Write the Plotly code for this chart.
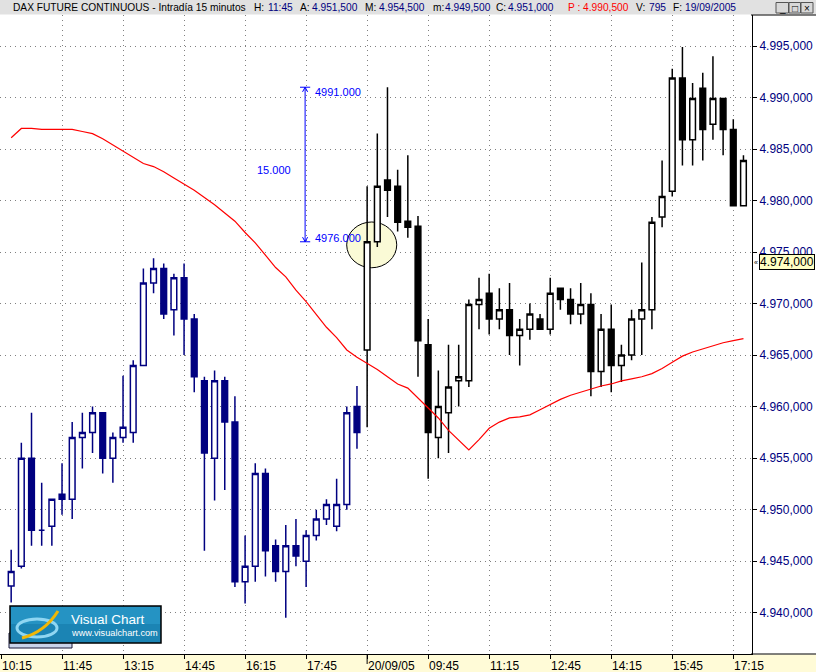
import plotly.graph_objects as go

W, H = 816, 672
ML, MR, MT, MB = 0, 64, 15, 18
PW = W - ML - MR
PH = H - MT - MB

def px(xp):
    return (xp - ML) / PW

def py(yp):
    return (H - MB - yp) / PH

NAVY = "#000080"
BLACK = "#000000"
FONT = "Liberation Sans, Arial, sans-serif"

# ---------------- data ----------------
# Day 1 (19/09/2005) bars, index 1..35 (15-minute bars)
x_day1 = list(range(1, 36))
open_day1 = [4942.6, 4944.5, 4955.0, 4948.0, 4948.4, 4951.5, 4951.0, 4957.0, 4957.5, 4959.4,
             4955.0, 4957.0, 4957.5, 4964.0, 4972.0, 4973.4, 4969.4, 4972.5, 4968.5, 4962.5,
             4955.0, 4962.5, 4958.5, 4943.0, 4944.5, 4953.5, 4946.5, 4944.0, 4946.5, 4945.0,
             4947.5, 4949.1, 4948.4, 4950.5, 4960.0]
high_day1 = [4946.1, 4956.5, 4959.4, 4952.6, 4951.0, 4954.5, 4958.5, 4959.4, 4960.0, 4959.4,
             4957.5, 4963.0, 4964.5, 4973.4, 4974.4, 4973.9, 4972.9, 4973.9, 4969.0, 4962.9,
             4963.5, 4962.9, 4961.0, 4947.5, 4954.5, 4954.0, 4947.1, 4948.5, 4949.1, 4948.0,
             4950.0, 4951.0, 4953.0, 4960.0, 4962.0]
low_day1 = [4941.0, 4944.3, 4946.5, 4946.5, 4946.5, 4949.5, 4949.1, 4954.0, 4955.5, 4953.5,
            4952.6, 4956.5, 4956.5, 4964.0, 4971.0, 4968.5, 4966.9, 4965.0, 4961.4, 4946.0,
            4950.9, 4951.9, 4942.5, 4940.9, 4943.0, 4943.5, 4943.0, 4939.5, 4944.5, 4942.5,
            4947.0, 4948.5, 4947.9, 4950.0, 4955.9]
close_day1 = [4944.0, 4955.0, 4948.0, 4948.0, 4951.0, 4951.0, 4957.0, 4957.5, 4959.4, 4955.0,
              4957.0, 4958.0, 4964.0, 4972.0, 4973.4, 4969.0, 4972.5, 4968.5, 4962.9, 4955.5,
              4962.5, 4958.5, 4943.0, 4944.5, 4953.5, 4946.0, 4944.0, 4946.5, 4945.5, 4947.5,
              4949.1, 4950.5, 4950.5, 4959.4, 4957.5]

# Day 2 (20/09/2005) bars, index 36..73
x_day2 = list(range(36, 74))
open_day2 = [4965.5, 4976.0, 4982.0, 4981.4, 4978.0, 4977.5, 4966.0, 4957.0, 4959.4, 4962.5,
             4962.5, 4969.9, 4971.0, 4968.5, 4969.4, 4966.9, 4967.5, 4968.5, 4967.5, 4971.5,
             4970.4, 4969.0, 4969.9, 4963.4, 4967.5, 4964.0, 4965.0, 4968.5, 4969.4, 4978.4,
             4980.9, 4991.9, 4985.9, 4990.9, 4987.4, 4989.9, 4986.9, 4979.5]
high_day2 = [4981.4, 4986.5, 4991.0, 4983.0, 4984.4, 4978.5, 4968.5, 4963.5, 4966.0, 4966.0,
             4970.4, 4972.5, 4972.9, 4971.5, 4972.0, 4968.5, 4970.0, 4969.0, 4972.5, 4971.5,
             4971.5, 4972.0, 4971.0, 4969.0, 4969.9, 4966.0, 4969.4, 4974.0, 4978.4, 4983.9,
             4992.8, 4994.9, 4991.4, 4992.4, 4994.0, 4989.9, 4987.9, 4984.4]
low_day2 = [4958.0, 4975.5, 4978.4, 4977.0, 4976.4, 4962.9, 4953.0, 4955.0, 4955.5, 4960.0,
            4961.9, 4967.5, 4967.0, 4967.5, 4965.0, 4964.0, 4966.5, 4967.5, 4967.0, 4969.4,
            4968.0, 4968.0, 4961.0, 4961.9, 4961.4, 4962.4, 4964.5, 4965.0, 4967.5, 4977.4,
            4980.4, 4983.4, 4983.4, 4983.9, 4985.9, 4984.4, 4979.5, 4979.5]
close_day2 = [4976.0, 4981.4, 4981.0, 4977.9, 4977.4, 4966.4, 4957.5, 4960.0, 4961.9, 4962.9,
              4969.9, 4970.4, 4968.5, 4969.4, 4966.9, 4967.5, 4969.0, 4967.5, 4971.0, 4970.4,
              4969.0, 4969.9, 4963.4, 4967.5, 4964.0, 4965.0, 4968.5, 4969.4, 4977.9, 4980.4,
              4991.9, 4985.9, 4989.9, 4986.9, 4989.9, 4986.9, 4979.5, 4983.9]

# Moving average (red line)
x_ma = list(range(1, 74))
ma_values = [4986.1, 4987.0, 4987.0, 4986.9, 4986.9, 4986.9, 4986.9, 4986.7, 4986.5, 4986.0,
             4985.4, 4984.8, 4984.2, 4983.6, 4983.3, 4982.8, 4982.2, 4981.6, 4981.0, 4980.3,
             4979.6, 4978.8, 4978.0, 4976.9, 4975.9, 4974.7, 4973.5, 4972.6, 4971.3, 4970.2,
             4968.9, 4967.7, 4966.7, 4965.5, 4964.8, 4964.2, 4963.6, 4962.9, 4962.2, 4961.8,
             4960.8, 4959.9, 4958.9, 4957.7, 4956.7, 4955.8, 4956.8, 4957.9, 4958.5, 4958.9,
             4959.0, 4959.2, 4959.7, 4960.2, 4960.7, 4961.1, 4961.4, 4961.7, 4962.0, 4962.2,
             4962.5, 4962.7, 4962.9, 4963.2, 4963.7, 4964.3, 4964.9, 4965.3, 4965.6, 4965.9,
             4966.2, 4966.4, 4966.6]

# axis ticks
x_tick_pos = list(range(0, 73, 6))
x_tick_text = ["10:15", "11:45", "13:15", "14:45", "16:15", "17:45", "20/09/05",
               "09:45", "11:15", "12:45", "14:15", "15:45", "17:15"]
y_tick_vals = [4940, 4945, 4950, 4955, 4960, 4965, 4970, 4975, 4980, 4985, 4990, 4995]
y_tick_text = ["4.%03d,000" % (v - 4000) for v in y_tick_vals]

last_price = 4974.0
measure_high = 4991.0
measure_low = 4976.0
measure_bar = 29.9

# ---------------- figure ----------------
fig = go.Figure()

fig.add_trace(go.Candlestick(
    x=x_day1, open=open_day1, high=high_day1, low=low_day1, close=close_day1,
    increasing=dict(line=dict(color=NAVY, width=1.5), fillcolor="white"),
    decreasing=dict(line=dict(color=NAVY, width=1.5), fillcolor=NAVY),
    whiskerwidth=0, showlegend=False, hoverinfo="skip"))

fig.add_trace(go.Candlestick(
    x=x_day2, open=open_day2, high=high_day2, low=low_day2, close=close_day2,
    increasing=dict(line=dict(color=BLACK, width=1.5), fillcolor="white"),
    decreasing=dict(line=dict(color=BLACK, width=1.5), fillcolor=BLACK),
    whiskerwidth=0, showlegend=False, hoverinfo="skip"))

fig.add_trace(go.Scatter(x=x_ma, y=ma_values, mode="lines",
                         line=dict(color="#ff0000", width=1.2),
                         showlegend=False, hoverinfo="skip"))

shapes = []
# title bar
shapes.append(dict(type="rect", xref="paper", yref="paper", x0=px(0), x1=px(W),
                   y0=py(14.5), y1=py(0), fillcolor="#e1e1e1", line=dict(width=0), layer="below"))
# bottom yellow band
shapes.append(dict(type="rect", xref="paper", yref="paper", x0=px(0), x1=px(W),
                   y0=py(H), y1=py(654.5), fillcolor="#FFFBD7", line=dict(width=0), layer="below"))
# bottom line extension under right panel
shapes.append(dict(type="line", xref="paper", yref="paper", x0=px(751), x1=px(W),
                   y0=py(654), y1=py(654), line=dict(color="black", width=1)))
# right panel top border
shapes.append(dict(type="line", xref="paper", yref="paper", x0=px(751), x1=px(W),
                   y0=py(15), y1=py(15), line=dict(color="black", width=1)))
# longer day-separator tick
shapes.append(dict(type="line", xref="x", yref="paper", x0=36, x1=36,
                   y0=py(654), y1=py(664), line=dict(color="black", width=1)))

# highlight ellipse around the breakout
ell_cx, ell_cy = 36.45, close_day2[0] - 0.3
shapes.append(dict(type="circle", xref="x", yref="y",
                   x0=ell_cx - 2.46, x1=ell_cx + 2.46, y0=ell_cy - 2.22, y1=ell_cy + 2.22,
                   fillcolor="#FAFAD6", line=dict(color="black", width=1), layer="between"))

# measuring tool
BLUE = "#0000ff"
shapes.append(dict(type="line", xref="x", yref="y", x0=measure_bar, x1=measure_bar,
                   y0=measure_low, y1=measure_high, line=dict(color=BLUE, width=1)))
for yv, d in ((measure_high, -1), (measure_low, 1)):
    shapes.append(dict(type="line", xref="x", yref="y", x0=measure_bar - 0.5, x1=measure_bar + 0.5,
                       y0=yv, y1=yv, line=dict(color=BLUE, width=1)))
    shapes.append(dict(type="line", xref="x", yref="y", x0=measure_bar - 0.25, x1=measure_bar,
                       y0=yv + d * 0.45, y1=yv, line=dict(color=BLUE, width=1)))
    shapes.append(dict(type="line", xref="x", yref="y", x0=measure_bar + 0.25, x1=measure_bar,
                       y0=yv + d * 0.45, y1=yv, line=dict(color=BLUE, width=1)))

# window buttons
for bx0, bx1 in ((776, 788.5), (789, 800.5), (801, 813)):
    shapes.append(dict(type="rect", xref="paper", yref="paper", x0=px(bx0), x1=px(bx1),
                       y0=py(13), y1=py(2.5), fillcolor="#d8d8d8", line=dict(color="#555555", width=1)))

# Visual Chart logo
shapes.append(dict(type="rect", xref="paper", yref="paper", x0=px(9), x1=px(72),
                   y0=py(648), y1=py(633), fillcolor="#c9d3ea", line=dict(color="#1a1a3a", width=1)))
shapes.append(dict(type="rect", xref="paper", yref="paper", x0=px(10), x1=px(161),
                   y0=py(643), y1=py(606), fillcolor="#1b84b4", line=dict(color="black", width=1.5)))
shapes.append(dict(type="rect", xref="paper", yref="paper", x0=px(11), x1=px(160),
                   y0=py(624), y1=py(607), fillcolor="#2593c3", line=dict(width=0)))
shapes.append(dict(type="circle", xref="paper", yref="paper", x0=px(17), x1=px(57),
                   y0=py(637), y1=py(619), line=dict(color="#8fd6f2", width=3)))
shapes.append(dict(type="path", xref="paper", yref="paper",
                   path="M %f,%f Q %f,%f %f,%f" % (px(22), py(638), px(45), py(632), px(58), py(611)),
                   line=dict(color="#f2b705", width=3)))

annotations = []
# x tick labels (left aligned at the tick)
for pos, txt in zip(x_tick_pos, x_tick_text):
    annotations.append(dict(x=pos, xref="x", y=py(666), yref="paper", text=txt,
                            xanchor="left", yanchor="middle", showarrow=False, xshift=-1,
                            font=dict(family=FONT, size=12, color="black")))

# title bar text
title_parts = [
    (13.3, "DAX FUTURE CONTINUOUS - Intradía 15 minutos", "black"),
    (254, "H:", "black"), (268.3, "11:45", NAVY),
    (300, "A:", "black"), (312.3, "4.951,500", NAVY),
    (365, "M:", "black"), (379, "4.954,500", NAVY),
    (433, "m:", "black"), (444.7, "4.949,500", NAVY),
    (495.7, "C:", "black"), (508, "4.951,000", NAVY),
    (568, "P : 4.990,500", "#ff0000"),
    (635.7, "V:", "black"), (649, "795", NAVY),
    (673, "F:", "black"), (685.3, "19/09/2005", NAVY),
]
for xp, txt, col in title_parts:
    annotations.append(dict(x=px(xp), xref="paper", y=py(7.5), yref="paper", text=txt,
                            xanchor="left", yanchor="middle", showarrow=False, xshift=-2,
                            font=dict(family=FONT, size=10.2, color=col)))
for xp, sym in ((782.3, "_"), (794.8, "□"), (807, "×")):
    annotations.append(dict(x=px(xp), xref="paper", y=py(8), yref="paper", text=sym,
                            xanchor="center", yanchor="middle", showarrow=False,
                            font=dict(family=FONT, size=10, color="black")))

# measuring tool labels
annotations.append(dict(x=measure_bar + 0.75, xref="x", y=measure_high, yref="y",
                        text="%.3f" % measure_high, xanchor="left", yanchor="middle",
                        showarrow=False, yshift=-5, font=dict(family=FONT, size=11, color=BLUE)))
annotations.append(dict(x=measure_bar + 0.75, xref="x", y=measure_low, yref="y",
                        text="%.3f" % measure_low, xanchor="left", yanchor="middle",
                        showarrow=False, yshift=4, font=dict(family=FONT, size=11, color=BLUE)))
annotations.append(dict(x=measure_bar - 4.95, xref="x", y=(measure_high + measure_low) / 2, yref="y",
                        text="%.3f" % (measure_high - measure_low), xanchor="left", yanchor="middle",
                        showarrow=False, yshift=-5, font=dict(family=FONT, size=11, color=BLUE)))

# last price marker
annotations.append(dict(x=px(758.5), xref="paper", y=last_price, yref="y",
                        text="4.%03d,000" % (last_price - 4000), xanchor="left", yanchor="middle",
                        showarrow=False, bgcolor="#FFFFC4", bordercolor="black", borderwidth=1,
                        borderpad=0, font=dict(family=FONT, size=12, color="black")))
annotations.append(dict(x=px(755.5), xref="paper", y=last_price, yref="y", text="«",
                        xanchor="center", yanchor="middle", showarrow=False,
                        font=dict(family=FONT, size=7, color="black")))

# logo text
annotations.append(dict(x=px(69), xref="paper", y=py(619), yref="paper", text="Visual Chart",
                        xanchor="left", yanchor="middle", showarrow=False,
                        font=dict(family=FONT, size=13.5, color="white")))
annotations.append(dict(x=px(69), xref="paper", y=py(633), yref="paper", text="www.visualchart.com",
                        xanchor="left", yanchor="middle", showarrow=False,
                        font=dict(family=FONT, size=9.2, color="white")))

fig.update_layout(
    width=W, height=H,
    margin=dict(l=ML, r=MR, t=MT, b=MB, pad=0),
    paper_bgcolor="white", plot_bgcolor="white",
    boxgap=0.2,
    showlegend=False,
    shapes=shapes, annotations=annotations,
    xaxis=dict(range=[-0.098, 73.84], tickmode="array", tickvals=x_tick_pos,
               showticklabels=False, ticks="outside", ticklen=4, tickcolor="black", tickwidth=1,
               showline=True, linecolor="black", linewidth=1,
               showgrid=True, gridcolor="#808080", gridwidth=1, griddash="1px,4px",
               zeroline=False, rangeslider=dict(visible=False), fixedrange=True),
    yaxis=dict(range=[4935.99, 4998.01], side="right", tickmode="array",
               tickvals=y_tick_vals, ticktext=y_tick_text,
               ticks="outside", ticklen=4, tickcolor="black", tickwidth=1,
               showline=True, linecolor="black", linewidth=1,
               showgrid=True, gridcolor="#808080", gridwidth=1, griddash="1px,4px",
               zeroline=False, fixedrange=True,
               tickfont=dict(family=FONT, size=12, color=NAVY)),
    hovermode=False,
)

fig.write_html("out.html", config={"displayModeBar": False},
               post_script="document.body.style.margin='0px';document.body.style.overflow='hidden';")
